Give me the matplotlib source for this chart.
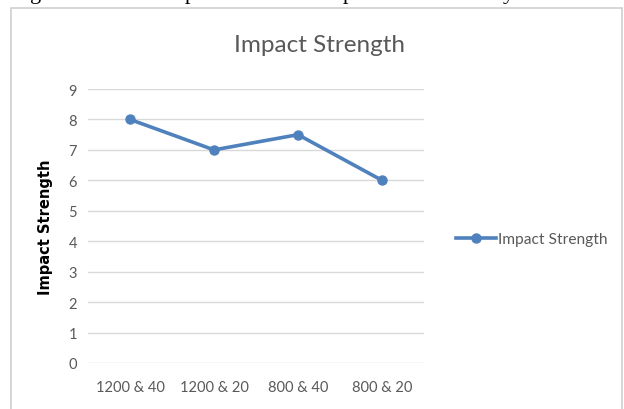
import matplotlib
matplotlib.use("Agg")
import matplotlib.pyplot as plt
from matplotlib.patches import Rectangle

# impact strength for each temperature & time combination
categories = ["1200 & 40", "1200 & 20", "800 & 40", "800 & 20"]
strength = [8, 7, 7.5, 6]
yticks = list(range(0, 10))

blue = "#4f81bd"
grey_txt = "#595959"

fig = plt.figure(figsize=(6.24, 4.10), dpi=100)
fig.patch.set_facecolor("white")

# chart frame
fig.patches.append(Rectangle((11 / 624, -0.01), 611 / 624, 1 - 9 / 410 + 0.01,
                             transform=fig.transFigure, fill=False,
                             edgecolor="#d0d0d0", linewidth=1.2))

# descenders of the caption line above the chart
for x, ch in [(36, "g"), (190, "p"), (348, "p"), (508, "y")]:
    fig.text(x / 624, 1 + 0.5 / 410, ch, family="Liberation Serif", fontsize=16,
             ha="center", va="baseline", color="black")

ax = fig.add_axes([88 / 624, 1 - 364 / 410, 336 / 624, 274 / 410])
x = list(range(len(categories)))
ax.plot(x, strength, color=blue, linewidth=2.6, marker="o", markersize=6.5,
        label="Impact Strength")

ax.set_xlim(-0.5, len(categories) - 0.5)
ax.set_ylim(0, 9)
ax.set_yticks(yticks)
ax.set_xticks(x)
ax.set_xticklabels(categories)
ax.grid(axis="y", color="#d9d9d9", linewidth=1)
ax.set_axisbelow(True)
for s in ax.spines.values():
    s.set_visible(False)
ax.tick_params(length=0, labelcolor=grey_txt, labelsize=10.5, pad=8)
for lbl in ax.get_xticklabels() + ax.get_yticklabels():
    lbl.set_family("Lato")
ax.tick_params(axis="x", pad=12)

ax.set_ylabel("Impact Strength", fontsize=10.5, fontweight="bold",
              family="DejaVu Sans")
ax.yaxis.set_label_coords(-0.105, 0.5)

fig.text(319 / 624, 1 - 45 / 410, "Impact Strength", ha="center", va="center",
         fontsize=17.5, color=grey_txt, family="Lato")

fig.legend(loc="center left", bbox_to_anchor=(442 / 624, 1 - 240 / 410),
           frameon=False, handlelength=2.6, handletextpad=0.1,
           prop={"family": "Lato", "size": 11.2}, labelcolor=grey_txt)

fig.savefig("out.png", dpi=100)
